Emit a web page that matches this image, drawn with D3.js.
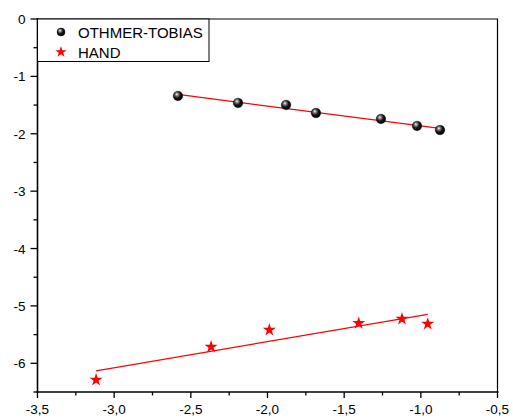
<!DOCTYPE html>
<html>
<head>
<meta charset="utf-8">
<script src="https://cdn.jsdelivr.net/npm/d3@7"></script>
<style>
  html, body { margin: 0; padding: 0; background: #fff; }
  svg { display: block; font-family: "Liberation Sans", Arial, sans-serif; }
</style>
</head>
<body>
<svg id="chart" width="513" height="420"></svg>
<script>
// Othmer-Tobias correlation points
const otX = [-2.584, -2.192, -1.879, -1.684, -1.260, -1.025, -0.875];
const otY = [-1.341, -1.463, -1.498, -1.638, -1.742, -1.864, -1.934];
// Hand correlation points
const handX = [-3.118, -2.368, -1.988, -1.405, -1.123, -0.955];
const handY = [-6.289, -5.714, -5.418, -5.301, -5.226, -5.314];

const seriesNames = ["OTHMER-TOBIAS", "HAND"];
const xTicks = [-3.5, -3.0, -2.5, -2.0, -1.5, -1.0, -0.5];
const yTicks = [0, -1, -2, -3, -4, -5, -6];

const svg = d3.select("#chart");
const plotL = 37.5, plotR = 497.5, plotT = 19, plotB = 392;

const x = d3.scaleLinear().domain([-3.5, -0.5]).range([plotL, plotR]);
const y = d3.scaleLinear().domain([-6.5, 0]).range([plotB, plotT]);

// least-squares fit of a series, evaluated over its own x span
function fit(xs, ys) {
  const mx = d3.mean(xs), my = d3.mean(ys);
  const b = d3.sum(xs, (v, i) => (v - mx) * (ys[i] - my)) / d3.sum(xs, v => (v - mx) ** 2);
  const a = my - b * mx;
  const x0 = d3.min(xs), x1 = d3.max(xs);
  return [[x0, a + b * x0], [x1, a + b * x1]];
}

// gradient giving the black spheres their shine
const defs = svg.append("defs");
const grad = defs.append("radialGradient").attr("id", "sphere")
  .attr("cx", "0.4").attr("cy", "0.38").attr("r", "0.65").attr("fx", "0.38").attr("fy", "0.32");
grad.append("stop").attr("offset", "0").attr("stop-color", "#ffffff");
grad.append("stop").attr("offset", "0.22").attr("stop-color", "#888");
grad.append("stop").attr("offset", "0.55").attr("stop-color", "#151515");
grad.append("stop").attr("offset", "1").attr("stop-color", "#000");

// frame: top and right edges
svg.append("path")
  .attr("d", `M${plotL},${plotT}H${plotR}V${plotB}`)
  .attr("fill", "none").attr("stroke", "#000").attr("stroke-width", 1.2);

// x axis
const xMinor = d3.range(-3.25, -0.5, 0.5);
const gx = svg.append("g").attr("transform", `translate(0,${plotB})`);
gx.append("line").attr("x1", plotL - 1).attr("x2", plotR + 1)
  .attr("stroke", "#000").attr("stroke-width", 1.6);
gx.selectAll(".maj").data(xTicks).join("line")
  .attr("x1", d => x(d)).attr("x2", d => x(d)).attr("y1", 0).attr("y2", 6)
  .attr("stroke", "#000").attr("stroke-width", 1.3);
gx.selectAll(".min").data(xMinor).join("line")
  .attr("x1", d => x(d)).attr("x2", d => x(d)).attr("y1", 0).attr("y2", 3.5)
  .attr("stroke", "#000").attr("stroke-width", 1.3);
gx.selectAll("text").data(xTicks).join("text")
  .attr("x", d => x(d)).attr("y", 22)
  .attr("text-anchor", "middle").attr("font-size", 13.5).attr("fill", "#000")
  .text(d => d3.format(".1f")(d).replace("−", "-").replace(".", ","));

// y axis
const yMinor = d3.range(-0.5, -6.6, -1);
const gy = svg.append("g").attr("transform", `translate(${plotL},0)`);
gy.append("line").attr("y1", plotT - 1).attr("y2", plotB + 1)
  .attr("stroke", "#000").attr("stroke-width", 1.6);
gy.selectAll(".maj").data(yTicks).join("line")
  .attr("y1", d => y(d)).attr("y2", d => y(d)).attr("x1", 0).attr("x2", -7)
  .attr("stroke", "#000").attr("stroke-width", 1.3);
gy.selectAll(".min").data(yMinor).join("line")
  .attr("y1", d => y(d)).attr("y2", d => y(d)).attr("x1", 0).attr("x2", -4)
  .attr("stroke", "#000").attr("stroke-width", 1.3);
gy.selectAll("text").data(yTicks).join("text")
  .attr("x", -12).attr("y", d => y(d) + 5)
  .attr("text-anchor", "end").attr("font-size", 13.5).attr("fill", "#000")
  .text(d => String(d).replace("−", "-"));

// fit lines
const line = d3.line().x(d => x(d[0])).y(d => y(d[1]));
[[otX, otY], [handX, handY]].forEach(([xs, ys]) => {
  svg.append("path").attr("d", line(fit(xs, ys)))
    .attr("fill", "none").attr("stroke", "#ff0000").attr("stroke-width", 1.2);
});

// markers
function sphere(g, cx, cy, r) {
  g.append("circle").attr("cx", cx).attr("cy", cy).attr("r", r)
    .attr("fill", "url(#sphere)").attr("stroke", "#000").attr("stroke-width", 0.4);
}
function redStar(g, cx, cy, size) {
  g.append("path").attr("d", d3.symbol().type(d3.symbolStar).size(size)())
    .attr("transform", `translate(${cx},${cy})`)
    .attr("fill", "#ff0000");
}
const marks = svg.append("g");
otX.forEach((v, i) => sphere(marks, x(v), y(otY[i]), 4.8));
handX.forEach((v, i) => redStar(marks, x(v), y(handY[i]), 52));

// legend
const lg = svg.append("g");
lg.append("rect").attr("x", plotL).attr("y", plotT).attr("width", 171.5).attr("height", 42.5)
  .attr("fill", "#fff").attr("stroke", "#000").attr("stroke-width", 1);
sphere(lg, 61, 32, 4);
redStar(lg, 61, 52, 40);
lg.selectAll("text").data(seriesNames).join("text")
  .attr("x", 78).attr("y", (d, i) => 37.5 + i * 20)
  .attr("font-size", 15).attr("fill", "#000").text(d => d);
</script>
</body>
</html>
